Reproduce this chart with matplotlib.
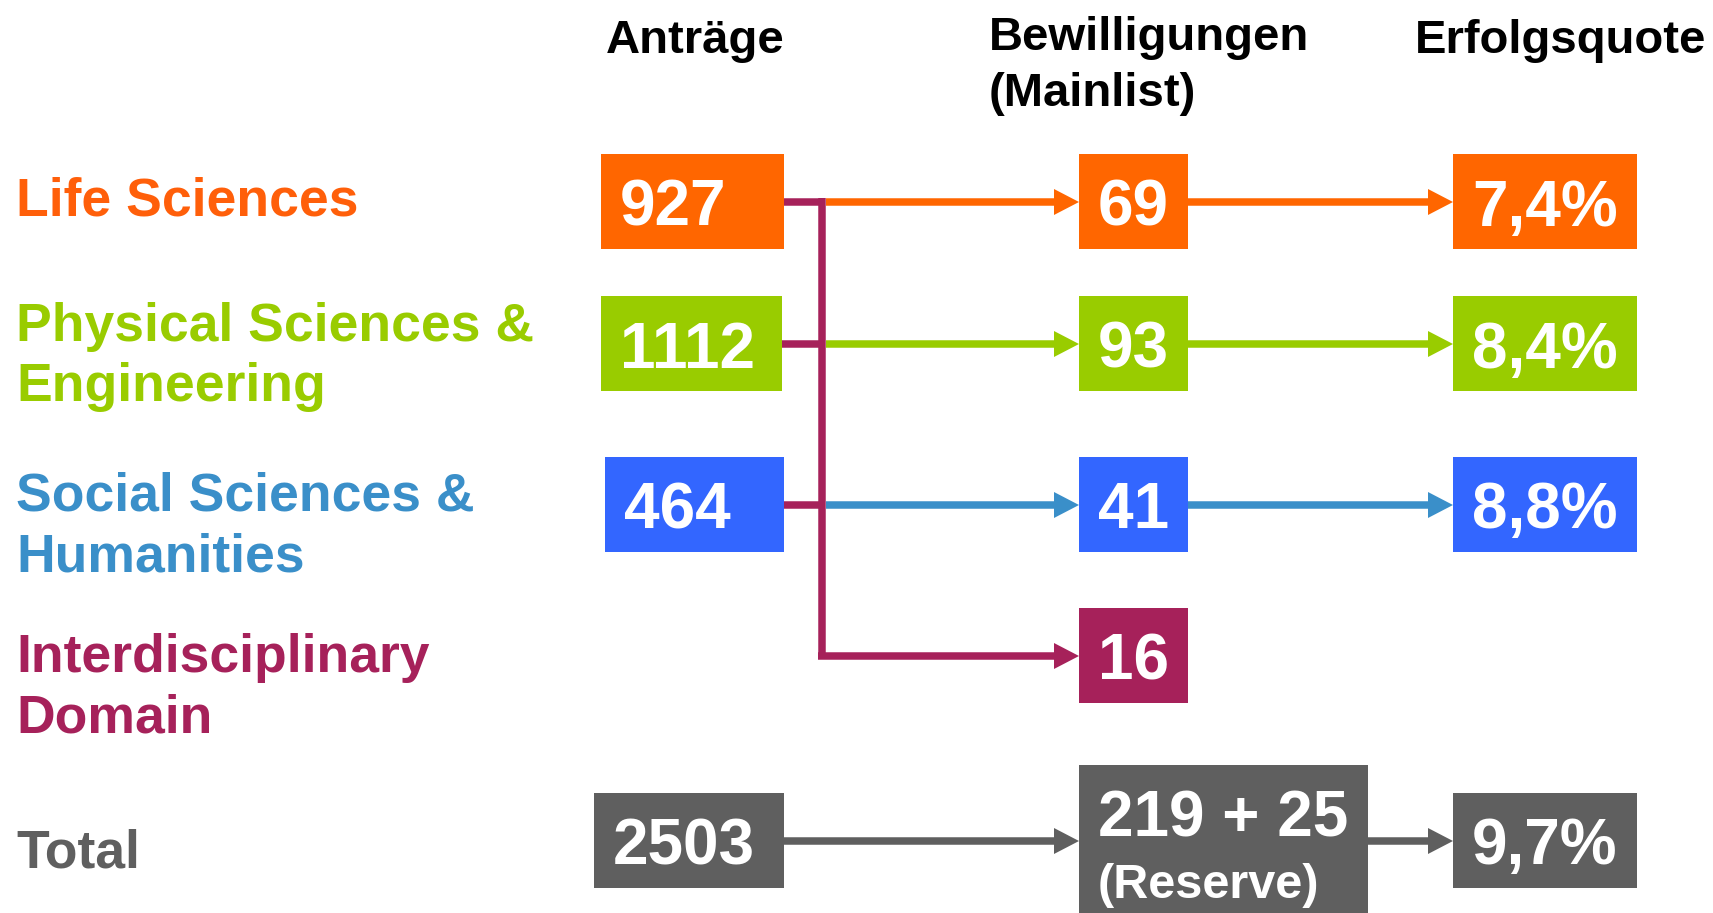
import matplotlib.pyplot as plt
from matplotlib.patches import Rectangle, Polygon

plt.rcParams['font.family'] = ['Liberation Sans', 'DejaVu Sans']

# data
categories = ["Life Sciences", "Physical Sciences &\nEngineering",
              "Social Sciences &\nHumanities", "Interdisciplinary\nDomain", "Total"]
antraege = ["927", "1112", "464", None, "2503"]
bewilligungen = ["69", "93", "41", "16", "219 + 25"]
reserve_note = "(Reserve)"
erfolgsquote = ["7,4%", "8,4%", "8,8%", None, "9,7%"]
headers = ["Anträge", "Bewilligungen\n(Mainlist)", "Erfolgsquote"]

box_colors = ["#FF6600", "#99CC00", "#3366FF", "#A6215A", "#5F5F5F"]
line_colors = ["#FF6600", "#99CC00", "#3A8FC9", "#A6215A", "#5F5F5F"]
label_colors = ["#FF5F0A", "#99CC00", "#3A8FC9", "#A6215A", "#5F5F5F"]

# layout (pixel units, y downward)
W, H = 1713, 913
row_y = [202, 344, 505, 656, 841]
label_y = [202, 357, 527, 688, 853]
col_a = [(601, 784), (601, 782), (605, 784), None, (594, 784)]
col_b = (1079, 1188)
col_b_total = (1079, 1368)
col_e = (1453, 1637)
box_h = 95
total_b_top, total_b_bot = 765, 913
split_x = 822
lw = 5.4
head_len, head_half = 25, 13

fig = plt.figure(figsize=(W / 100, H / 100), dpi=100)
ax = fig.add_axes([0, 0, 1, 1])
ax.set_xlim(0, W)
ax.set_ylim(H, 0)
ax.axis("off")


def box(x0, x1, yc, color, text, h=box_h, size=46):
    ax.add_patch(Rectangle((x0, yc - h / 2), x1 - x0, h, color=color, lw=0, zorder=2))
    ax.text(x0 + 19, yc, text, color="white", fontsize=size,
            fontweight="bold", ha="left", va="center_baseline", zorder=3)


def arrow(x0, x1, y, color):
    ax.plot([x0, x1 - head_len + 2], [y, y], color=color, lw=lw,
            solid_capstyle="butt", zorder=1)
    ax.add_patch(Polygon([(x1 - head_len, y - head_half), (x1, y),
                          (x1 - head_len, y + head_half)], closed=True,
                         color=color, lw=0, zorder=1))


# headers
ax.text(695, 36, headers[0], fontsize=34, fontweight="bold", ha="center", va="center_baseline")
ax.text(989, 66, headers[1], fontsize=34, fontweight="bold", ha="left", va="center",
        linespacing=1.38)
ax.text(1415, 36, headers[2], fontsize=34, fontweight="bold", ha="left", va="center_baseline")

# row labels
for i, cat in enumerate(categories):
    ax.text(16, label_y[i], cat, color=label_colors[i], fontsize=38.5,
            fontweight="bold", ha="left", va="center", linespacing=1.26)

# magenta splitter
mag = box_colors[3]
ax.plot([split_x, split_x], [row_y[0] - lw * 0.7, row_y[3]], color=mag, lw=lw,
        solid_capstyle="butt", zorder=1)
for i in range(3):
    ax.plot([col_a[i][1], split_x], [row_y[i], row_y[i]], color=mag, lw=lw,
            solid_capstyle="butt", zorder=1)

for i in range(4):
    if antraege[i] is not None:
        box(col_a[i][0], col_a[i][1], row_y[i], box_colors[i], antraege[i])
    arrow(split_x + 4 if i < 3 else split_x - 4, col_b[0], row_y[i], line_colors[i])
    box(col_b[0], col_b[1], row_y[i], box_colors[i], bewilligungen[i])
    if erfolgsquote[i] is not None:
        arrow(col_b[1], col_e[0], row_y[i], line_colors[i])
        box(col_e[0], col_e[1], row_y[i], box_colors[i], erfolgsquote[i])

# total row
g = box_colors[4]
yt = row_y[4]
box(col_a[4][0], col_a[4][1], yt, g, antraege[4])
arrow(col_a[4][1], col_b_total[0], yt, g)
ax.add_patch(Rectangle((col_b_total[0], total_b_top), col_b_total[1] - col_b_total[0],
                       total_b_bot - total_b_top, color=g, lw=0, zorder=2))
ax.text(col_b_total[0] + 19, 813, bewilligungen[4], color="white", fontsize=46,
        fontweight="bold", ha="left", va="center_baseline", zorder=3)
ax.text(col_b_total[0] + 19, 880, reserve_note, color="white", fontsize=35,
        fontweight="bold", ha="left", va="center_baseline", zorder=3)
arrow(col_b_total[1], col_e[0], yt, g)
box(col_e[0], col_e[1], yt, g, erfolgsquote[4])

fig.savefig("out.png", dpi=100)
